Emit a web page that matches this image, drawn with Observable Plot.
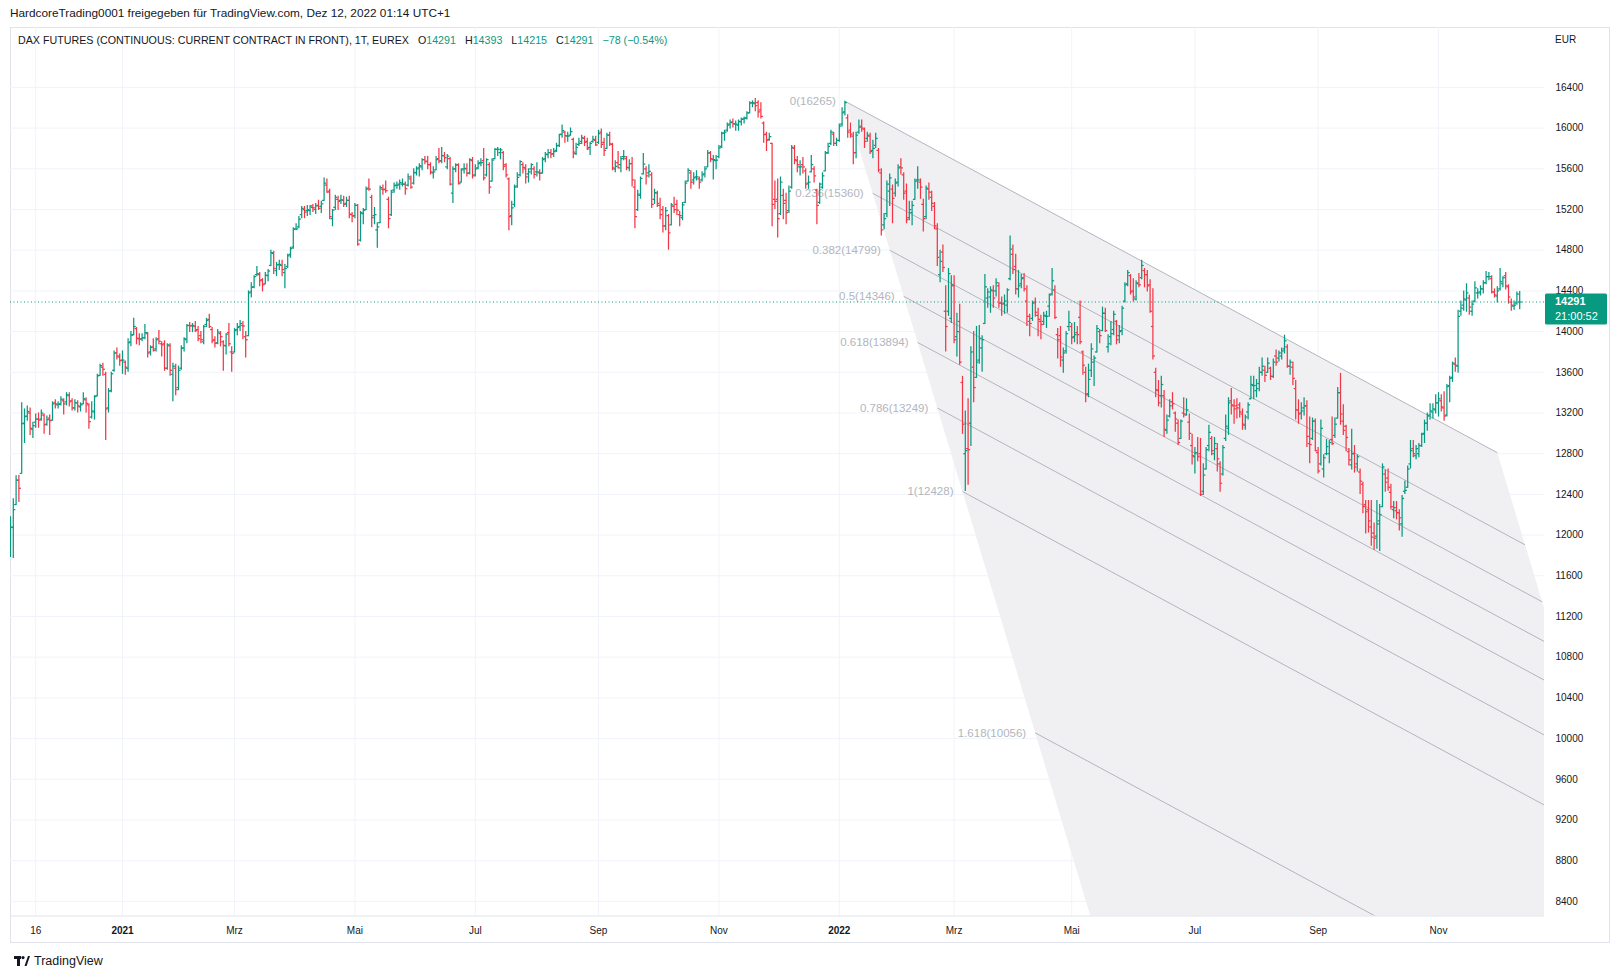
<!DOCTYPE html>
<html>
<head>
<meta charset="utf-8">
<script src="https://cdn.jsdelivr.net/npm/d3@7"></script>
<script src="https://cdn.jsdelivr.net/npm/@observablehq/plot@0.6"></script>
<style>
html,body{margin:0;padding:0;background:#fff;}
body{width:1622px;height:980px;position:relative;overflow:hidden;font-family:"Liberation Sans",Arial,sans-serif;color:#131722;}
#head{position:absolute;left:10px;top:6px;font-size:11.8px;white-space:nowrap;}
#frame{position:absolute;left:10px;top:27px;width:1600px;height:916px;border:1px solid #e0e3eb;box-sizing:border-box;}
#chart{position:absolute;left:10px;top:27px;width:1600px;height:916px;}
#legend{position:absolute;left:18px;top:34px;font-size:10.7px;white-space:nowrap;}
#legend .v{color:#089981;}
#legend .k{margin-left:6px;}
#eur{position:absolute;left:1555px;top:34px;font-size:10px;}
#foot{position:absolute;left:14px;top:954px;font-size:12.5px;display:flex;align-items:center;gap:4px;color:#131722;}
</style>
</head>
<body>
<div id="head">HardcoreTrading0001 freigegeben für TradingView.com, Dez 12, 2022 01:14 UTC+1</div>
<div id="frame"></div>
<div id="chart"></div>
<div id="legend">DAX FUTURES (CONTINUOUS: CURRENT CONTRACT IN FRONT), 1T, EUREX <span class="k">O</span><span class="v">14291</span> <span class="k">H</span><span class="v">14393</span> <span class="k">L</span><span class="v">14215</span> <span class="k">C</span><span class="v">14291</span> <span class="v" style="margin-left:6px">−78 (−0.54%)</span></div>
<div id="eur">EUR</div>
<div id="foot"><svg width="16" height="10" viewBox="0 0 16 10"><rect x="0" y="0" width="7" height="3" fill="#131722"/><rect x="3" y="0" width="3" height="10" fill="#131722"/><circle cx="9" cy="1.6" r="1.6" fill="#131722"/><polygon points="10.5,10 14,0 16,0 12.6,10" fill="#131722"/></svg><span>TradingView</span></div>
<script>
// ---- Daily OHLC bars [open, high, low, close], one array per month ----
const nov2020 = [[11820,12180,11780,12080],[12075,12358,11770,12250],[12300,12583,12290,12540],[12540,12585,12320,12460],[12606,13300,12600,13095],[13100,13240,12900,13165],[13170,13270,13120,13215],[13200,13250,12980,13050],[13040,13110,12950,13075],[13110,13190,13050,13140],[13140,13200,13050,13130],[13140,13230,13120,13200],[13180,13190,12990,13085],[13090,13170,13070,13135],[13150,13180,12980,13125],[13130,13310,13120,13290],[13300,13330,13240,13290],[13280,13310,13240,13285],[13290,13360,13270,13335],[13320,13340,13180,13290]];
const dec2020 = [[13310,13400,13270,13380],[13370,13400,13260,13310],[13320,13340,13220,13250],[13250,13330,13220,13300],[13300,13320,13200,13270],[13260,13300,13210,13280],[13290,13400,13280,13340],[13330,13350,13200,13295],[13280,13290,13040,13115],[13160,13310,13140,13220],[13210,13370,13130,13360],[13370,13580,13360,13565],[13570,13680,13560,13665],[13650,13690,13560,13630],[13580,13600,12930,13240],[13250,13440,13200,13415],[13420,13600,13400,13585],[13620,13810,13600,13790],[13790,13840,13720,13760],[13750,13780,13660,13715]];
const jan2021 = [[13720,13810,13580,13720],[13700,13710,13570,13650],[13640,13930,13600,13890],[13900,14000,13850,13965],[13970,14130,13960,14050],[14030,14040,13870,13935],[13930,13980,13860,13925],[13930,13980,13900,13940],[13940,14070,13920,13990],[13980,13990,13740,13790],[13800,13860,13760,13845],[13850,13930,13800,13815],[13830,13940,13800,13920],[13930,14010,13870,13905],[13880,13900,13750,13870],[13880,13910,13610,13640],[13640,13880,13620,13870],[13860,13880,13560,13620],[13580,13690,13310,13660],[13640,13680,13370,13430]];
const feb2021 = [[13450,13660,13420,13620],[13640,13860,13620,13835],[13840,13940,13800,13930],[13920,14070,13880,14060],[14060,14090,13990,14055],[14060,14080,13990,14060],[14050,14100,13990,14010],[14020,14050,13900,13930],[13960,14000,13880,13920],[13900,14060,13870,14050],[14070,14130,14040,14110],[14120,14170,14030,14050],[14020,14040,13880,13910],[13920,13950,13840,13885],[13890,14020,13870,13995],[13980,14000,13850,13950],[13900,13910,13610,13865],[13860,13980,13770,13975],[13990,14080,13850,13880],[13800,13850,13600,13785]];
const mar2021 = [[13800,14030,13790,14010],[14020,14080,13960,14040],[14050,14110,14000,14080],[14060,14100,13920,14055],[13950,14000,13740,13920],[13960,14400,13950,14380],[14390,14480,14330,14435],[14440,14550,14420,14540],[14560,14640,14540,14570],[14560,14580,14440,14500],[14510,14520,14390,14460],[14470,14580,14460,14555],[14550,14610,14490,14595],[14650,14800,14640,14775],[14770,14790,14560,14620],[14600,14680,14540,14655],[14660,14700,14600,14660],[14650,14700,14540,14610],[14580,14660,14420,14620],[14640,14760,14620,14745],[14760,14830,14720,14815],[14830,15020,14810,15005],[15010,15060,14990,15010]];
const apr2021 = [[15030,15130,15010,15105],[15150,15230,15110,15210],[15200,15230,15110,15175],[15190,15240,15130,15200],[15190,15240,15140,15235],[15220,15250,15170,15215],[15200,15260,15150,15235],[15240,15290,15190,15210],[15230,15280,15160,15255],[15290,15510,15280,15460],[15440,15500,15360,15370],[15380,15400,15100,15130],[15110,15200,15030,15195],[15220,15340,15190,15320],[15300,15330,15190,15280],[15290,15340,15250,15295],[15290,15330,15220,15250],[15260,15320,15220,15290],[15290,15330,15110,15155],[15150,15170,15070,15135]];
const may2021 = [[15140,15260,15110,15240],[15240,15250,14840,14860],[14900,15180,14880,15170],[15160,15210,15050,15195],[15200,15420,15190,15400],[15410,15500,15380,15400],[15320,15340,15020,15120],[15140,15220,15050,15150],[15000,15070,14820,15030],[15070,15430,15060,15415],[15400,15440,15340,15395],[15400,15480,15360,15385],[15300,15320,15010,15110],[15150,15390,15130,15370],[15390,15460,15360,15435],[15440,15470,15400,15440],[15450,15490,15390,15465],[15450,15500,15420,15450],[15450,15470,15340,15405],[15440,15550,15420,15520],[15500,15530,15400,15420]];
const jun2021 = [[15460,15600,15440,15565],[15560,15620,15530,15600],[15610,15650,15520,15630],[15620,15700,15580,15690],[15690,15720,15640,15675],[15670,15720,15590,15640],[15640,15660,15540,15570],[15560,15620,15500,15570],[15590,15720,15580,15690],[15700,15800,15650,15675],[15680,15810,15650,15730],[15730,15760,15660,15710],[15620,15740,15590,15725],[15700,15710,15430,15450],[15360,15620,15260,15600],[15600,15650,15560,15635],[15640,15650,15440,15455],[15470,15600,15460,15590],[15600,15650,15550,15605],[15600,15650,15520,15555],[15560,15700,15540,15690],[15680,15710,15500,15530]];
const jul2021 = [[15540,15640,15520,15600],[15610,15680,15590,15650],[15660,15700,15620,15660],[15680,15800,15480,15510],[15540,15700,15520,15690],[15640,15660,15350,15420],[15480,15700,15470,15685],[15700,15800,15690,15790],[15790,15810,15720,15790],[15760,15800,15690,15785],[15760,15770,15580,15625],[15640,15650,15510,15540],[15500,15510,14990,15130],[15140,15280,15040,15215],[15250,15440,15220,15420],[15430,15560,15410,15515],[15540,15680,15520,15670],[15640,15660,15550,15615],[15600,15640,15450,15520],[15550,15600,15460,15570],[15600,15650,15540,15640],[15600,15620,15500,15545]];
const aug2021 = [[15570,15660,15520,15570],[15560,15590,15480,15555],[15560,15710,15550,15690],[15700,15760,15660,15745],[15740,15790,15700,15760],[15760,15790,15700,15745],[15750,15800,15710,15770],[15780,15850,15760,15825],[15830,15940,15810,15935],[15940,16030,15900,15975],[15960,15970,15850,15925],[15920,15960,15860,15920],[15930,16000,15920,15965],[15890,15900,15700,15765],[15750,15850,15730,15810],[15840,15900,15820,15850],[15870,15930,15840,15905],[15900,15920,15820,15860],[15870,15900,15780,15795],[15810,15860,15730,15850],[15870,15920,15850,15890],[15880,15920,15820,15835]];
const sep2021 = [[15860,15980,15840,15945],[15960,15990,15800,15840],[15860,15900,15720,15780],[15800,15950,15790,15930],[15930,15960,15820,15845],[15840,15850,15580,15610],[15600,15680,15560,15625],[15660,15770,15600,15610],[15640,15720,15560,15700],[15720,15780,15680,15720],[15700,15720,15580,15615],[15610,15690,15570,15650],[15650,15710,15420,15490],[15420,15490,15010,15130],[15200,15390,15180,15350],[15340,15520,15300,15505],[15550,15750,15540,15645],[15600,15620,15440,15530],[15560,15640,15510,15575],[15540,15560,15210,15250],[15300,15400,15250,15365],[15360,15380,15220,15260]];
const oct2021 = [[15240,15310,15100,15150],[15200,15230,14970,15040],[15040,15220,14990,15190],[15140,15150,14800,14970],[15050,15260,15040,15245],[15230,15320,15160,15200],[15250,15290,15140,15195],[15150,15180,15030,15140],[15120,15270,15090,15245],[15270,15480,15260,15460],[15480,15600,15470,15585],[15560,15580,15400,15470],[15490,15560,15440,15510],[15520,15580,15480,15520],[15500,15520,15400,15470],[15490,15570,15470,15540],[15550,15620,15510,15600],[15620,15780,15610,15755],[15760,15770,15660,15700],[15690,15730,15490,15690],[15680,15730,15590,15685]];
const nov2021 = [[15720,15830,15700,15805],[15820,15960,15800,15950],[15950,15980,15870,15960],[15980,16050,15960,16030],[16040,16080,15990,16055],[16060,16090,16000,16045],[16040,16070,15970,16040],[16030,16080,15970,16065],[16060,16100,16020,16085],[16090,16110,16040,16095],[16100,16160,16080,16150],[16150,16260,16140,16245],[16250,16270,16200,16250],[16240,16290,16160,16220],[16250,16270,16100,16160],[16180,16250,16090,16115],[16050,16060,15850,15935],[15940,15960,15770,15880],[15890,15950,15870,15915],[15850,15850,15030,15250],[15300,15480,15200,15280],[15300,15500,14920,15110]];
const dec2021 = [[15160,15520,15140,15470],[15340,15400,15100,15260],[15290,15360,15050,15170],[15190,15430,15160,15380],[15420,15830,15400,15810],[15800,15830,15640,15690],[15680,15720,15560,15640],[15620,15680,15530,15620],[15640,15710,15550,15620],[15580,15600,15400,15450],[15460,15530,15400,15470],[15570,15730,15560,15640],[15600,15620,15460,15530],[15390,15400,15050,15240],[15270,15460,15250,15450],[15420,15560,15400,15530],[15580,15770,15570,15755],[15760,15850,15740,15820],[15850,15980,15830,15960],[15940,15960,15820,15850],[15850,15900,15820,15880]];
const jan2022 = [[15880,16040,15860,16020],[16040,16200,16010,16150],[16160,16265,16120,16250],[16100,16130,15900,15960],[15980,16050,15900,15940],[15920,15960,15640,15760],[15760,15960,15700,15930],[15960,16080,15940,16010],[16020,16080,15960,16000],[15990,16000,15800,15870],[15900,15960,15860,15930],[15920,15950,15740,15770],[15780,15880,15700,15800],[15830,15950,15800,15900],[15780,15800,15560,15590],[15560,15600,14940,15000],[15050,15160,15000,15110],[15160,15480,15120,15450],[15380,15550,15230,15510],[15400,15440,15060,15310],[15360,15500,15320,15460]];
const feb2022 = [[15470,15640,15420,15610],[15620,15700,15540,15610],[15540,15560,15290,15360],[15380,15450,15060,15100],[15120,15280,15090,15200],[15170,15280,15040,15240],[15300,15500,15290,15480],[15490,15620,15400,15490],[15470,15500,15300,15420],[15250,15300,14980,15110],[15130,15430,15100,15410],[15400,15460,15290,15370],[15320,15380,15180,15260],[15230,15270,15000,15040],[15010,15060,14640,14730],[14560,14800,14480,14690],[14780,14850,14580,14630],[14200,14450,13800,14050],[14200,14620,14150,14570],[14130,14550,14080,14460]];
const mar2022 = [[14450,14550,13880,13920],[13950,14180,13750,14000],[14100,14270,13670,13700],[13500,13560,12990,13090],[12800,13220,12428,12830],[12850,13340,12490,12840],[13100,13850,12870,13800],[13650,14000,13300,13450],[13550,14050,13540,13700],[13720,14060,13680,13930],[13840,13960,13600,13920],[14080,14560,14070,14440],[14330,14420,14230,14390],[14340,14440,14180,14410],[14400,14450,14230,14330],[14400,14520,14340,14480],[14450,14480,14230,14280],[14280,14340,14150,14270],[14280,14360,14170,14300],[14260,14420,14180,14410],[14520,14940,14500,14810],[14760,14850,14560,14610],[14640,14760,14360,14420]];
const apr2022 = [[14420,14600,14330,14450],[14470,14560,14420,14520],[14530,14570,14390,14420],[14300,14450,14050,14150],[14100,14170,13950,14080],[14130,14300,14100,14280],[14290,14330,14140,14190],[14160,14230,13950,14120],[14100,14160,13920,14070],[14100,14190,14060,14160],[14150,14200,14030,14150],[14250,14370,14140,14360],[14370,14620,14350,14500],[14410,14450,14120,14140],[13970,14030,13730,13920],[13960,14050,13650,13750],[13720,13840,13590,13790],[13810,14000,13780,13980],[14050,14200,14000,14090]];
const may2022 = [[14050,14080,13870,13940],[13950,14090,13890,13970],[13990,14050,13870,13970],[14140,14300,13870,13900],[13800,13810,13570,13670],[13600,13650,13300,13380],[13390,13680,13350,13530],[13620,13880,13550,13830],[13700,13760,13460,13740],[13800,14060,13790,14030],[14000,14020,13880,13960],[14010,14240,14000,14180],[14180,14230,13990,14010],[13850,13970,13790,13880],[13950,14100,13860,13980],[14020,14200,13960,14170],[14100,14110,13870,13920],[13960,14060,13880,14000],[14010,14250,13960,14230],[14300,14480,14280,14460],[14470,14600,14440,14580],[14550,14560,14360,14390]];
const jun2022 = [[14400,14520,14290,14340],[14320,14500,14300,14480],[14470,14570,14430,14460],[14530,14700,14510,14650],[14600,14620,14430,14560],[14560,14600,14390,14450],[14460,14510,14180,14200],[14050,14420,13720,13760],[13600,13640,13350,13430],[13420,13520,13260,13300],[13370,13560,13250,13480],[13370,13420,12960,13040],[13030,13180,12990,13130],[13170,13330,13150,13270],[13310,13400,13230,13290],[13200,13210,13010,13140],[13100,13130,12880,12910],[12950,13130,12940,13120],[13200,13350,13150,13190],[13180,13340,13170,13230],[13110,13190,12930,13000],[12880,12990,12690,12780]];
const jul2022 = [[12770,12860,12600,12810],[12810,12960,12720,12770],[12800,12950,12380,12400],[12430,12700,12390,12590],[12650,12860,12640,12840],[12880,13080,12820,13010],[12950,12970,12780,12830],[12800,12960,12730,12900],[12850,12900,12620,12750],[12700,12720,12420,12510],[12600,12880,12580,12860],[12950,13180,12920,13070],[13050,13350,12980,13300],[13320,13440,13180,13280],[13270,13330,13090,13240],[13270,13340,13140,13250],[13280,13300,13150,13210],[13190,13240,13030,13090],[13080,13180,13030,13160],[13210,13300,13130,13280],[13340,13560,13330,13480]];
const aug2022 = [[13470,13560,13330,13470],[13420,13530,13350,13440],[13490,13650,13410,13600],[13600,13740,13560,13660],[13620,13660,13500,13570],[13600,13740,13590,13690],[13640,13650,13520,13560],[13560,13730,13540,13700],[13760,13820,13660,13700],[13740,13810,13700,13790],[13760,13840,13720,13810],[13830,13965,13780,13910],[13850,13870,13640,13660],[13660,13720,13570,13700],[13650,13700,13470,13540],[13440,13520,13130,13230],[13230,13330,13090,13190],[13200,13300,13130,13220],[13250,13350,13170,13270],[13270,13320,12860,12970],[12900,13160,12700,12890],[12950,13150,12930,13120],[13120,13140,12820,12830]];
const sep2022 = [[12810,12860,12600,12630],[12700,13130,12680,13050],[12650,12790,12560,12760],[12800,12940,12780,12870],[12800,12930,12700,12910],[12940,13160,12880,12900],[12980,13150,12950,13090],[13150,13450,13140,13400],[13400,13590,13080,13190],[13120,13280,12980,13030],[13070,13080,12820,12960],[12820,12850,12680,12740],[12690,13040,12640,12800],[12800,12880,12610,12670],[12700,12790,12620,12770],[12620,12650,12400,12530],[12500,12520,12210,12280],[12300,12340,12010,12230],[12250,12340,12020,12140],[12080,12340,11890,11980],[12020,12120,11850,11970],[11990,12340,11860,12110]];
const oct2022 = [[12140,12300,11840,12200],[12280,12700,12270,12670],[12600,12640,12420,12520],[12560,12650,12430,12470],[12420,12500,12250,12280],[12250,12330,12160,12270],[12240,12330,12150,12220],[12220,12250,12040,12170],[12110,12390,11980,12360],[12430,12530,12400,12440],[12470,12680,12460,12650],[12700,12930,12650,12830],[12850,12930,12760,12800],[12780,12880,12740,12850],[12800,12900,12760,12880],[12880,13000,12860,12990],[13000,13130,12900,13100],[13100,13200,13020,13170],[13180,13290,13130,13220],[13210,13290,13140,13240],[13230,13380,13190,13300]];
const nov2022 = [[13300,13400,13160,13340],[13320,13380,13210,13260],[13250,13410,13120,13170],[13180,13480,13160,13460],[13470,13560,13300,13540],[13550,13700,13500,13690],[13680,13740,13600,13670],[13660,14210,13590,14150],[14200,14300,14150,14230],[14260,14400,14200,14320],[14310,14470,14190,14380],[14330,14360,14160,14240],[14200,14300,14150,14270],[14300,14490,14280,14430],[14380,14420,14320,14380],[14390,14450,14350,14420],[14420,14500,14370,14480],[14480,14590,14460,14540],[14540,14580,14500,14540],[14520,14550,14370,14390],[14390,14420,14330,14360],[14350,14440,14280,14400]];
const dec2022 = [[14420,14620,14400,14490],[14470,14540,14430,14530],[14550,14580,14410,14450],[14440,14460,14270,14340],[14290,14320,14200,14260],[14250,14300,14210,14260],[14280,14390,14260,14369],[14291,14393,14215,14291]];

// trading calendar (Eurex holidays in range)
const firstDay = "2020-11-03", lastDay = "2022-12-12";
const holidays = ["2020-12-24","2020-12-25","2020-12-31","2021-01-01","2021-04-02","2021-04-05","2021-12-24","2021-12-31","2022-04-15","2022-04-18"];

// time-axis ticks
const xTickDates = ["2020-11-16","2021-01-04","2021-03-01","2021-05-03","2021-07-01","2021-09-01","2021-11-01","2022-01-03","2022-03-01","2022-05-02","2022-07-01","2022-09-01","2022-11-01"];
const xTickLabels = ["16","2021","Mrz","Mai","Jul","Sep","Nov","2022","Mrz","Mai","Jul","Sep","Nov"];
// price-axis ticks
const yTicks = [8400,8800,9200,9600,10000,10400,10800,11200,11600,12000,12400,12800,13200,13600,14000,14400,14800,15200,15600,16000,16400];

// Fibonacci channel: anchors A (start), B (end of base line), C (channel width)
const fibAnchorDates = ["2022-01-05","2022-11-30","2022-03-07"];
const fibAnchorBarShift = [0, 0, -1];
const fibAnchorPrices = [16265, 12810, 12428];
const fibLevels = [0, 0.236, 0.382, 0.5, 0.618, 0.786, 1, 1.618];
const fibLabels = ["0(16265)","0.236(15360)","0.382(14799)","0.5(14346)","0.618(13894)","0.786(13249)","1(12428)","1.618(10056)"];
const fibShadeDepth = 2.618;

const lastPrice = 14291;
const countdown = "21:00:52";

// ---------- build ----------
const hol = new Set(holidays);
const dates = [];
for (let t = Date.parse(firstDay); t <= Date.parse(lastDay); t += 864e5) {
  const d = new Date(t), wd = d.getUTCDay(), s = d.toISOString().slice(0,10);
  if (wd === 0 || wd === 6 || hol.has(s)) continue;
  dates.push(s);
}
const ohlc = [nov2020,dec2020,jan2021,feb2021,mar2021,apr2021,may2021,jun2021,jul2021,aug2021,sep2021,oct2021,nov2021,dec2021,
  jan2022,feb2022,mar2022,apr2022,may2022,jun2022,jul2022,aug2022,sep2022,oct2022,nov2022,dec2022].flat();
const UP = "#089981", DOWN = "#f23645";
const bars = ohlc.map(([o,h,l,c], i) => ({i, date: dates[i], o, h, l, c, col: c >= o ? UP : DOWN}));

const idxOf = s => dates.indexOf(s);
const xTicks = xTickDates.map(idxOf);
const labelOf = new Map(xTicks.map((v, k) => [v, xTickLabels[k]]));

const [A, B, C] = fibAnchorDates.map((s, k) => ({x: idxOf(s) + fibAnchorBarShift[k], y: fibAnchorPrices[k]}));
const fibRows = fibLevels.map((k, j) => {
  const x1 = A.x + k * (C.x - A.x), y1 = A.y + k * (C.y - A.y);
  return {k, label: fibLabels[j], x1, y1, x2: x1 + (B.x - A.x), y2: y1 + (B.y - A.y)};
});
const L = fibShadeDepth;
const shade = [
  {x: A.x, y: A.y}, {x: B.x, y: B.y},
  {x: B.x + L * (C.x - A.x), y: B.y + L * (C.y - A.y)},
  {x: A.x + L * (C.x - A.x), y: A.y + L * (C.y - A.y)},
  {x: A.x, y: A.y}
];

const W = 1600, H = 916, PANE_R = 1534, PANE_B = 888.5, BAR_PX = 2.8;
const TICK = 0.72;
const chart = Plot.plot({
  width: W, height: H,
  marginLeft: 0, marginTop: 0, marginRight: W - PANE_R, marginBottom: H - PANE_B,
  x: {domain: [0, PANE_R / BAR_PX]},
  y: {domain: [8256.5, 16988.7]},
  color: {type: "identity"},
  style: {fontFamily: "'Liberation Sans', Arial, sans-serif", fontSize: "10px", color: "#131722", background: "transparent", overflow: "visible"},
  marks: [
    Plot.gridY(yTicks, {stroke: "#f0f3fa", strokeOpacity: 1}),
    Plot.gridX(xTicks, {stroke: "#f0f3fa", strokeOpacity: 1}),
    Plot.line(shade, {x: "x", y: "y", fill: "#f0f0f3", stroke: "none", clip: true}),
    Plot.link(fibRows, {x1: "x1", y1: "y1", x2: "x2", y2: "y2", stroke: "#b2b5be", strokeWidth: 1, clip: true}),
    Plot.text(fibRows, {x: "x1", y: "y1", text: "label", textAnchor: "end", dx: -9, fill: "#b2b5be", fontSize: 11.5}),
    Plot.ruleX(bars, {x: "i", y1: "l", y2: "h", stroke: "col", strokeWidth: 1.25, clip: true}),
    Plot.link(bars, {x1: d => d.i - TICK, x2: "i", y1: "o", y2: "o", stroke: "col", strokeWidth: 1.25, clip: true}),
    Plot.link(bars, {x1: "i", x2: d => d.i + TICK, y1: "c", y2: "c", stroke: "col", strokeWidth: 1.25, clip: true}),
    Plot.ruleY([lastPrice], {stroke: UP, strokeWidth: 1, strokeDasharray: "1,2.5"}),
    Plot.ruleY([8256.5], {stroke: "#e0e3eb"}),
    Plot.axisY(yTicks, {anchor: "right", tickSize: 0, tickPadding: 11, tickFormat: d => String(d), fontSize: 10, fill: "#131722", label: null}),
    Plot.axisX(xTicks, {anchor: "bottom", tickSize: 0, tickPadding: 11, tickFormat: d => labelOf.get(d), fontSize: 10, fill: "#131722", label: null})
  ]
});
document.getElementById("chart").append(chart);

const svg = d3.select(chart);
svg.selectAll("text").filter(function() { return /^20\d\d$/.test(this.textContent); }).attr("font-weight", "bold");

// last-price marker on the price scale
const yPx = chart.scale("y").apply(lastPrice);
const g = svg.append("g").attr("text-anchor", "start");
g.append("rect").attr("x", PANE_R + 1).attr("y", yPx - 8).attr("width", 62).attr("height", 31).attr("rx", 1.5).attr("fill", UP);
g.append("text").attr("x", PANE_R + 11).attr("y", yPx).attr("dy", "0.35em").attr("text-anchor", "start").attr("fill", "#fff").attr("font-size", 11).attr("font-weight", "bold").text(String(lastPrice));
g.append("text").attr("x", PANE_R + 11).attr("y", yPx + 14.5).attr("dy", "0.35em").attr("text-anchor", "start").attr("fill", "#fff").attr("font-size", 11).text(countdown);
</script>
</body>
</html>
